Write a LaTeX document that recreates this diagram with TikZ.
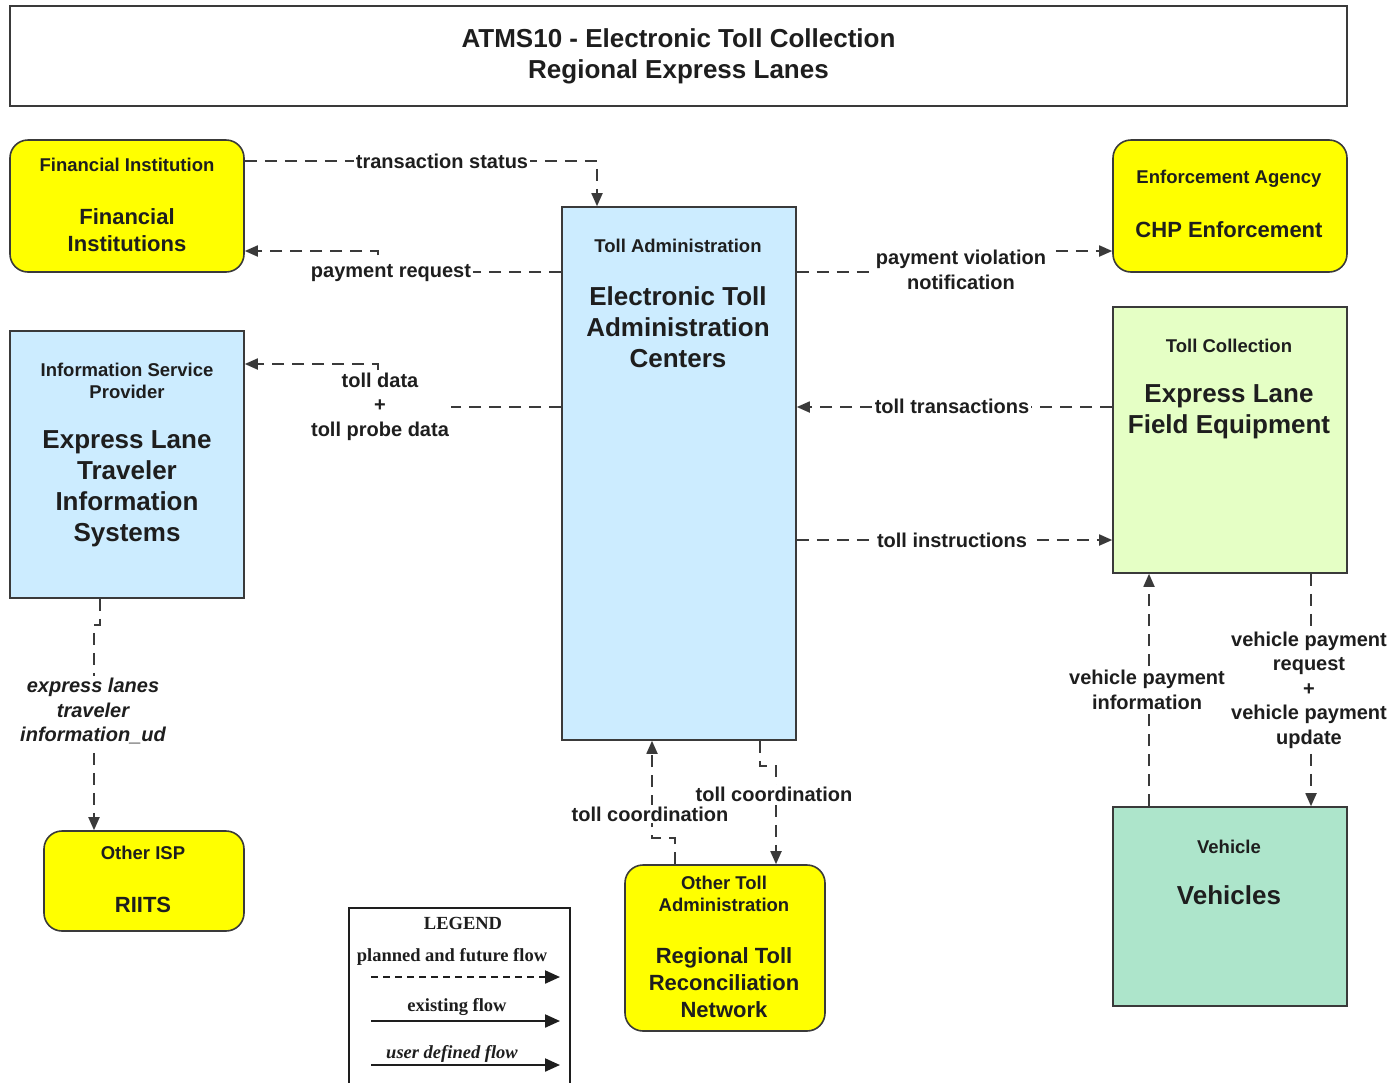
\documentclass[tikz,border=0pt]{standalone}
\usepackage{fontspec}
\setmainfont{Liberation Sans}
\newfontfamily\legserif{Liberation Serif}
\usetikzlibrary{arrows.meta}
\definecolor{ylw}{HTML}{FFFF00}
\definecolor{lblue}{HTML}{CCECFF}
\definecolor{lgreen}{HTML}{E5FFC5}
\definecolor{mint}{HTML}{ADE5CB}
\definecolor{edge}{HTML}{3A3A3A}
\definecolor{ink}{HTML}{1E1E1E}
\begin{document}
\begin{tikzpicture}[x=1pt,y=-1pt,
 box/.style={draw=edge, line width=1.6pt, inner sep=0pt},
 rbox/.style={box, rounded corners=18pt, fill=ylw},
 hdr/.style={font=\bfseries\fontsize{18.5}{22}\selectfont, text=ink, align=center, inner sep=0pt},
 big/.style={font=\bfseries\fontsize{26}{31}\selectfont, text=ink, align=center, inner sep=0pt},
 mid/.style={font=\bfseries\fontsize{22}{27}\selectfont, text=ink, align=center, inner sep=0pt},
 lbl/.style={font=\bfseries\fontsize{20}{24.5}\selectfont, text=ink, align=center, fill=white, inner sep=2pt},
 flow/.style={draw=edge, line width=1.8pt, dash pattern=on 12pt off 8pt, -{Triangle[length=13pt,width=11pt]}},
 leg/.style={font=\legserif\bfseries\fontsize{18.5}{20}\selectfont, text=ink, inner sep=0pt},
 legarrow/.style={draw=ink, line width=2.2pt, -{Triangle[length=15pt,width=13pt]}},
]
\fill[white] (0,0) rectangle (1394,1082);
\useasboundingbox (0,0) rectangle (1394,1082);

% title
\node[box, minimum width=1337pt, minimum height=100pt, font=\bfseries\fontsize{26}{31}\selectfont, text=ink, align=center] (title) at (678.5,56) {ATMS10 - Electronic Toll Collection\\Regional Express Lanes};

% boxes
\node[rbox, minimum width=234pt, minimum height=132pt] (fi) at (127,206) {};
\node[box, fill=lblue, minimum width=234pt, minimum height=267pt] (isp) at (127,464.5) {};
\node[rbox, minimum width=200pt, minimum height=100pt] (riits) at (144,881) {};
\node[box, fill=lblue, minimum width=234pt, minimum height=533pt] (etac) at (679,473.5) {};
\node[rbox, minimum width=234pt, minimum height=132pt] (enf) at (1230,206) {};
\node[box, fill=lgreen, minimum width=234pt, minimum height=266pt] (elfe) at (1230,440) {};
\node[box, fill=mint, minimum width=234pt, minimum height=199pt] (veh) at (1230,906.5) {};
\node[rbox, minimum width=200pt, minimum height=166pt] (rtrn) at (725,948) {};

% box texts
\node[hdr] (fi-h) at (127,165) {Financial Institution};
\node[mid] (fi-n) at (127,230) {Financial\\Institutions};
\node[hdr] (isp-h) at (127,381) {Information Service\\Provider};
\node[big] (isp-n) at (127,489) {Express Lane\\Traveler\\Information\\Systems};
\node[hdr] (riits-h) at (143,853) {Other ISP};
\node[mid] (riits-n) at (143,905) {RIITS};
\node[hdr] (etac-h) at (678,246) {Toll Administration};
\node[big] (etac-n) at (678,327) {Electronic Toll\\Administration\\Centers};
\node[hdr] (enf-h) at (1229,179) {Enforcement Agency};
\node[mid] (enf-n) at (1229,230) {CHP Enforcement};
\node[hdr] (elfe-h) at (1229,346) {Toll Collection};
\node[big] (elfe-n) at (1229,411.5) {Express Lane\\Field Equipment};
\node[hdr] (veh-h) at (1229,847) {Vehicle};
\node[big] (veh-n) at (1229,895) {Vehicles};
\node[hdr] (rtrn-h) at (724,894) {Other Toll\\Administration};
\node[mid] (rtrn-n) at (724,983) {Regional Toll\\Reconciliation\\Network};

% connectors
\draw[flow] (fi.east |- 0,161) -- (597,161) -- (etac.north -| 597,0);
\draw[flow] (etac.west |- 0,272) -- (378,272) -- (378,251) -- (fi.east |- 0,251);
\draw[flow] (etac.west |- 0,407) -- (378,407) -- (378,364) -- (isp.east |- 0,364);
\draw[flow] (etac.east |- 0,272) -- (961,272) -- (961,251) -- (enf.west |- 0,251);
\draw[flow] (elfe.west |- 0,407) -- (etac.east |- 0,407);
\draw[flow] (etac.east |- 0,540) -- (elfe.west |- 0,540);
\draw[flow] (veh.north -| 1149,0) -- (elfe.south -| 1149,0);
\draw[flow] (elfe.south -| 1311,0) -- (veh.north -| 1311,0);
\draw[flow] (isp.south -| 100,0) -- (100,625) -- (94,625) -- (riits.north -| 94,0);
\draw[flow] (rtrn.north -| 675,0) -- (675,838) -- (652,838) -- (etac.south -| 652,0);
\draw[flow] (etac.south -| 760,0) -- (760,766) -- (776,766) -- (rtrn.north -| 776,0);

% connector labels
\node[lbl] (ts) at (442,161) {transaction status};
\node[lbl] (pr) at (391,273) {payment request};
\node[lbl] (td) at (380,406.5) {toll data\\+\\toll probe data};
\node[lbl] (pv) at (961,270) {payment violation\\notification};
\node[lbl] (tt) at (952,406) {toll transactions};
\node[lbl] (ti) at (952,540) {toll instructions};
\node[lbl] (vpi) at (1147,690) {vehicle payment\\information};
\node[lbl] (vpr) at (1309,690) {vehicle payment\\request\\+\\vehicle payment\\update};
\node[lbl, font=\bfseries\itshape\fontsize{20}{24.5}\selectfont] (elt) at (93,711) {express lanes\\traveler\\information\_ud};
\node[lbl] (tc1) at (650,814) {toll coordination};
\node[lbl] (tc2) at (774,794) {toll coordination};

% legend
\draw[draw=ink, line width=1.8pt] (349,1083) -- (349,908) -- (570,908) -- (570,1083);
\node[leg] (lg-t) at (463,923) {LEGEND};
\node[leg] (lg-1) at (452,957) {planned and future flow};
\coordinate (l1a) at (371,977); \coordinate (l1b) at (560,977);
\draw[legarrow, dash pattern=on 7pt off 5pt] (l1a) -- (l1b);
\node[leg] (lg-2) at (457,1007) {existing flow};
\coordinate (l2a) at (371,1021); \coordinate (l2b) at (560,1021);
\draw[legarrow] (l2a) -- (l2b);
\node[leg, font=\legserif\bfseries\itshape\fontsize{18.5}{20}\selectfont] (lg-3) at (452,1054) {user defined flow};
\coordinate (l3a) at (371,1065); \coordinate (l3b) at (560,1065);
\draw[legarrow] (l3a) -- (l3b);
\end{tikzpicture}
\end{document}
